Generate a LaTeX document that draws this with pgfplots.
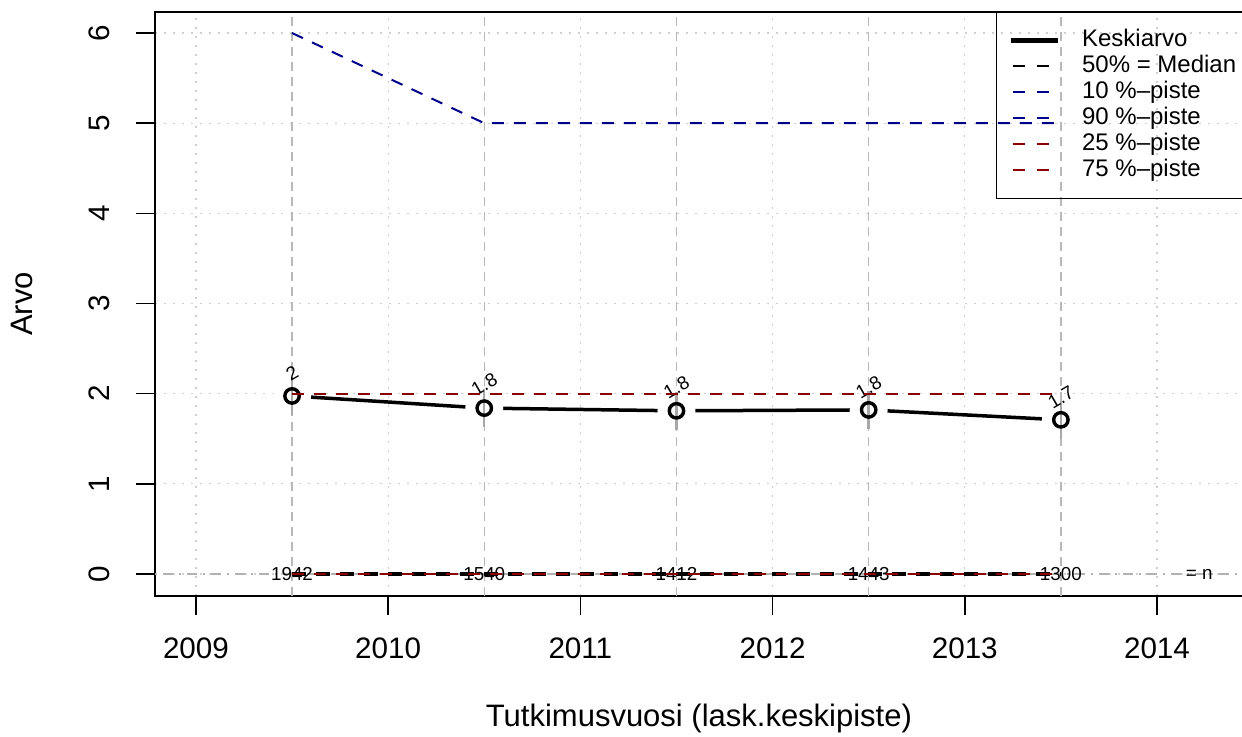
\documentclass[border=0pt]{standalone}
\usepackage{fontspec}
\setmainfont{Liberation Sans}
\usepackage{pgfplots}
\pgfplotsset{compat=1.18}
\definecolor{rdblue}{HTML}{00008B}
\definecolor{rdred}{HTML}{8B0000}
\definecolor{gridgray}{HTML}{CFCFCF}
\definecolor{cigray}{HTML}{A8A8A8}

\begin{document}
\begin{tikzpicture}
\useasboundingbox (0,0) rectangle (621pt,368pt);
\clip (0,0) rectangle (621pt,368pt);
\begin{axis}[
  at={(77.5pt,70pt)}, anchor=south west,
  scale only axis, width=543.95pt, height=292pt,
  xmin=2008.787, xmax=2014.447, ymin=-0.244, ymax=6.233,
  clip marker paths=true,
  xtick={2009,2010,2011,2012,2013,2014}, ytick={0,1,2,3,4,5,6},
  xtick pos=lower, ytick pos=left,
  /pgf/number format/.cd, 1000 sep={}, assume math mode=true, /pgfplots/.cd,
  tick align=outside, major tick length=9.5pt,
  tick style={black, line width=0.8pt},
  axis line style={line width=1pt},
  ticklabel style={font=\fontsize{14.8}{17}\selectfont},
  yticklabel style={rotate=90, anchor=south},
  yticklabel shift=9.5pt,
  xticklabel style={yshift=-8pt},
  grid=major,
  major grid style={gridgray, dash pattern=on 1pt off 3.5pt, line width=0.6pt},
  extra x ticks={2009.5,2010.5,2011.5,2012.5,2013.5}, extra x tick labels={},
  extra x tick style={major tick length=0pt, grid=major,
    major grid style={gray!55, dash pattern=on 4.5pt off 3pt, line width=0.7pt}},
  xlabel={Tutkimusvuosi (lask.keskipiste)},
  ylabel={Arvo},
  label style={font=\fontsize{15.5}{18}\selectfont},
  xlabel style={at={(axis description cs:0.5,-0.2089)}, anchor=center},
  ylabel style={at={(axis description cs:-0.1223,0.5)}, anchor=center},
  legend style={at={(axis cs:2013.163,6.233)}, anchor=north west,
    draw=black, fill=none, font=\fontsize{12}{13}\selectfont,
    inner xsep=6pt, inner ysep=7.5pt, row sep=0pt, column sep=9pt,
    nodes={text height=8.8pt, text depth=2.4pt, inner ysep=0.9pt}},
  legend cell align=left,
  legend image code/.code={\draw[#1] (0pt,0pt) -- (23.5pt,0pt);},
]
\addlegendimage{black, line width=2.3pt}
\addlegendentry{\makebox[95pt][l]{Keskiarvo}}
\addlegendimage{black, line width=1pt, dash pattern=on 6pt off 6pt, dash phase=-1pt}
\addlegendentry{\makebox[95pt][l]{50\% = Median}}
\addlegendimage{rdblue, line width=1pt, dash pattern=on 6pt off 6pt, dash phase=-1pt}
\addlegendentry{\makebox[95pt][l]{10 \%--piste}}
\addlegendimage{rdblue, line width=1pt, dash pattern=on 6pt off 6pt, dash phase=-1pt}
\addlegendentry{\makebox[95pt][l]{90 \%--piste}}
\addlegendimage{rdred, line width=1pt, dash pattern=on 6pt off 6pt, dash phase=-1pt}
\addlegendentry{\makebox[95pt][l]{25 \%--piste}}
\addlegendimage{rdred, line width=1pt, dash pattern=on 6pt off 6pt, dash phase=-1pt}
\addlegendentry{\makebox[95pt][l]{75 \%--piste}}

% n line at zero
\addplot[forget plot, gray!60, line width=0.8pt, dash pattern=on 1pt off 3pt on 5pt off 3pt]
  coordinates {(2008.787,0) (2014.447,0)};
% n labels
\addplot[forget plot, draw=none, mark=none, nodes near coords, point meta=explicit symbolic,
  nodes near coords style={anchor=center, font=\fontsize{9.4}{10}\selectfont}]
  coordinates {(2009.5,0)[1942] (2010.5,0)[1540] (2011.5,0)[1412] (2012.5,0)[1443] (2013.5,0)[1300] (2014.22,0)[= n]};

% mean
\addplot[forget plot, black, line width=1.75pt]
  coordinates {(2009.5,1.975) (2010.5,1.84) (2011.5,1.81) (2012.5,1.82) (2013.5,1.71)};
% white gaps round the points, as in a type "b" line
\addplot[forget plot, draw=none, mark=none, nodes near coords={},
  nodes near coords style={circle, fill=white, draw=none, minimum size=19pt, inner sep=0pt, anchor=center}]
  coordinates {(2009.5,1.975) (2010.5,1.84) (2011.5,1.81) (2012.5,1.82) (2013.5,1.71)};
% confidence intervals
\addplot[forget plot, cigray, line width=1.2pt] coordinates {(2009.5,1.765) (2009.5,2.185)};
\addplot[forget plot, cigray, line width=1.2pt] coordinates {(2010.5,1.63) (2010.5,2.05)};
\addplot[forget plot, cigray, line width=1.2pt] coordinates {(2011.5,1.60) (2011.5,2.02)};
\addplot[forget plot, cigray, line width=1.2pt] coordinates {(2012.5,1.61) (2012.5,2.03)};
\addplot[forget plot, cigray, line width=1.2pt] coordinates {(2013.5,1.50) (2013.5,1.92)};
\addplot[forget plot, only marks, mark=o, mark size=3.6pt, mark options={line width=1.7pt, black}]
  coordinates {(2009.5,1.975) (2010.5,1.84) (2011.5,1.81) (2012.5,1.82) (2013.5,1.71)};
% mean value labels
\addplot[forget plot, draw=none, mark=none, nodes near coords, point meta=explicit symbolic,
  nodes near coords style={anchor=center, rotate=30, font=\fontsize{9.4}{10}\selectfont}]
  coordinates {(2009.5,2.23)[2] (2010.5,2.10)[1.8] (2011.5,2.07)[1.8] (2012.5,2.07)[1.8] (2013.5,1.96)[1.7]};

% percentiles
\addplot[forget plot, rdblue, line width=1pt, dash pattern=on 6pt off 5pt]
  coordinates {(2009.5,0) (2010.5,0) (2011.5,0) (2012.5,0) (2013.5,0)};
\addplot[forget plot, black, line width=2pt, dash pattern=on 7pt off 5pt]
  coordinates {(2009.5,0) (2010.5,0) (2011.5,0) (2012.5,0) (2013.5,0)};
\addplot[forget plot, rdred, line width=1pt, dash pattern=on 6pt off 5pt]
  coordinates {(2009.5,0) (2010.5,0) (2011.5,0) (2012.5,0) (2013.5,0)};
\addplot[forget plot, rdred, line width=1pt, dash pattern=on 6pt off 5pt]
  coordinates {(2009.5,2) (2010.5,2) (2011.5,2) (2012.5,2) (2013.5,2)};
\addplot[forget plot, rdblue, line width=1pt, dash pattern=on 6pt off 5pt]
  coordinates {(2009.5,6) (2010.5,5) (2011.5,5) (2012.5,5) (2013.5,5)};
\end{axis}
\end{tikzpicture}
\end{document}
